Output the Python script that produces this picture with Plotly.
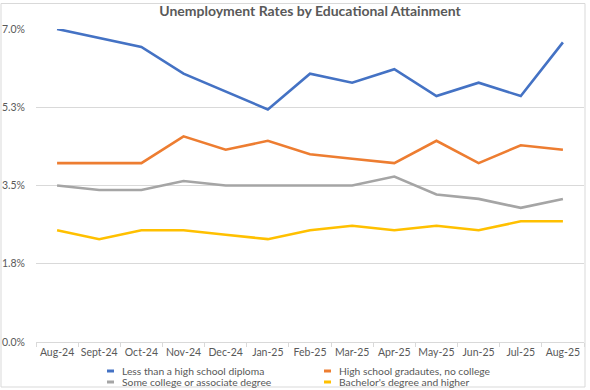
import plotly.graph_objects as go

months = ["Aug-24", "Sept-24", "Oct-24", "Nov-24", "Dec-24", "Jan-25", "Feb-25",
          "Mar-25", "Apr-25", "May-25", "Jun-25", "Jul-25", "Aug-25"]
less_than_hs = [7.0, 6.8, 6.6, 6.0, 5.6, 5.2, 6.0, 5.8, 6.1, 5.5, 5.8, 5.5, 6.7]
hs_grad = [4.0, 4.0, 4.0, 4.6, 4.3, 4.5, 4.2, 4.1, 4.0, 4.5, 4.0, 4.4, 4.3]
some_college = [3.5, 3.4, 3.4, 3.6, 3.5, 3.5, 3.5, 3.5, 3.7, 3.3, 3.2, 3.0, 3.2]
bachelors = [2.5, 2.3, 2.5, 2.5, 2.4, 2.3, 2.5, 2.6, 2.5, 2.6, 2.5, 2.7, 2.7]
y_ticks = [0.0, 1.75, 3.5, 5.25, 7.0]
y_tick_labels = ["0.0%", "1.8%", "3.5%", "5.3%", "7.0%"]

series = [
    ("Less than a high school diploma", less_than_hs, "#4472C4"),
    ("High school gradautes, no college", hs_grad, "#ED7D31"),
    ("Some college or associate degree", some_college, "#A5A5A5"),
    ("Bachelor's degree and higher", bachelors, "#FFC000"),
]

fig = go.Figure()
for name, vals, color in series:
    fig.add_trace(go.Scatter(x=months, y=vals, name=name, mode="lines",
                             line=dict(color=color, width=2.6), showlegend=False))

W, H = 590, 390
ml, mr, mt, mb = 36, 6, 29, 48
pw, ph = W - ml - mr, H - mt - mb


def px_x(x):
    return (x - ml) / pw


def px_y(y):
    return (H - mb - y) / ph


# Compact legend (two columns, tight rows) built as text + swatches
shapes = [dict(type="rect", xref="paper", yref="paper",
               x0=px_x(1), x1=px_x(585), y0=px_y(387), y1=px_y(3.5),
               line=dict(color="#D9D9D9", width=1), layer="below")]
annotations = []
col_x = [107, 324]
row_y = [371, 382]
for i, (name, _, color) in enumerate(series):
    cx = col_x[i % 2]
    ry = row_y[i // 2]
    shapes.append(dict(type="line", xref="paper", yref="paper",
                       x0=px_x(cx), x1=px_x(cx + 7), y0=px_y(ry), y1=px_y(ry),
                       line=dict(color=color, width=3)))
    annotations.append(dict(text=name, xref="paper", yref="paper",
                            x=px_x(cx + 13), y=px_y(ry), xanchor="left", yanchor="middle",
                            showarrow=False, font=dict(size=10.3, color="#595959")))

fig.update_layout(
    width=W, height=H,
    margin=dict(l=ml, r=mr, t=mt, b=mb),
    paper_bgcolor="white", plot_bgcolor="white",
    font=dict(family="Lato, Open Sans, sans-serif", size=11, color="#595959"),
    title=dict(text="<b>Unemployment Rates by Educational Attainment</b>",
               xref="paper", x=0.5, xanchor="center", y=1 - 11 / H, yanchor="middle",
               font=dict(size=14, color="#595959")),
    showlegend=False,
    xaxis=dict(range=[-0.5, len(months) - 0.5],
               showgrid=False, showline=True, linecolor="#D9D9D9", linewidth=1,
               ticks="outside", tickson="boundaries", ticklen=4, tickcolor="#D9D9D9",
               tickangle=0, automargin=False,
               tickfont=dict(size=10.5, color="#595959"), fixedrange=True),
    yaxis=dict(range=[0, 7.0], tickvals=y_ticks, ticktext=y_tick_labels,
               showgrid=True, gridcolor="#D9D9D9", gridwidth=1, zeroline=False,
               showline=False, ticks="", ticklabelstandoff=10, automargin=False,
               tickfont=dict(size=10.5, color="#595959"), fixedrange=True),
    shapes=shapes,
    annotations=annotations,
)

fig.write_html("out.html", config={"displayModeBar": False},
               post_script="document.body.style.margin='0';document.body.style.overflow='hidden';")
